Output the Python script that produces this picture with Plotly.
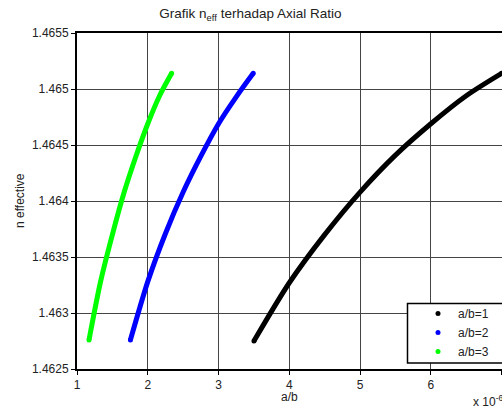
import plotly.graph_objects as go

# a/b = 1 (black)
x_ab1 = [3.50, 4.00, 4.50, 5.00, 5.50, 6.00, 6.50, 7.00]
y_ab1 = [1.46275, 1.46327, 1.46370, 1.46408, 1.46441, 1.46469, 1.46494, 1.46514]
# a/b = 2 (blue)
x_ab2 = [1.755, 2.00, 2.25, 2.50, 2.75, 3.00, 3.25, 3.49]
y_ab2 = [1.46276, 1.46328, 1.46371, 1.46408, 1.46440, 1.46469, 1.46493, 1.46514]
# a/b = 3 (green)
x_ab3 = [1.170, 1.333, 1.500, 1.667, 1.833, 2.000, 2.167, 2.337]
y_ab3 = [1.46276, 1.46328, 1.46370, 1.46408, 1.46440, 1.46469, 1.46494, 1.46514]

names = ["a/b=1", "a/b=2", "a/b=3"]
colors = ["#000000", "#0000ff", "#00ff00"]

x_ticks = [1, 2, 3, 4, 5, 6, 7]
y_ticks = [1.4625, 1.463, 1.4635, 1.464, 1.4645, 1.465, 1.4655]
y_tick_labels = ["1.4625", "1.463", "1.4635", "1.464", "1.4645", "1.465", "1.4655"]

FONT = "Liberation Sans, Arial, Helvetica, sans-serif"

fig = go.Figure()
for xs, ys, c in zip([x_ab1, x_ab2, x_ab3], [y_ab1, y_ab2, y_ab3], colors):
    fig.add_trace(go.Scatter(x=xs, y=ys, mode="lines",
                             line=dict(color=c, width=5, shape="spline", smoothing=0.8),
                             showlegend=False, hoverinfo="skip"))
    fig.add_trace(go.Scatter(x=[xs[0], xs[-1]], y=[ys[0], ys[-1]], mode="markers",
                             marker=dict(color=c, size=5), showlegend=False, hoverinfo="skip"))
for n, c in zip(names, colors):
    fig.add_trace(go.Scatter(x=[None], y=[None], mode="markers", name=n,
                             marker=dict(color=c, size=5)))

W, H = 502, 411
L, T, R, B = 77, 33, 0, 42
pw = W - L - R
ph = H - T - B

def px(xp):
    return (xp - L) / pw

def py(yp):
    return (H - B - yp) / ph

fig.update_layout(
    width=W, height=H,
    margin=dict(l=L, r=R, t=T, b=B, autoexpand=False),
    paper_bgcolor="white", plot_bgcolor="white",
    font=dict(family=FONT, size=12, color="#222222"),
    title=dict(text="Grafik n<sub>eff</sub> terhadap Axial Ratio", x=px(289), xanchor="center",
               y=1 - 13 / H, yanchor="middle", font=dict(size=13.5)),
    xaxis=dict(range=[1, 7.005], tickvals=x_ticks, ticktext=[str(v) for v in x_ticks],
               showgrid=True, gridcolor="#444444", gridwidth=1, zeroline=False,
               showline=True, linecolor="black", linewidth=2, mirror=True,
               ticks="outside", ticklen=4, tickcolor="black", automargin=False),
    yaxis=dict(range=[1.4625, 1.4655], tickvals=y_ticks, ticktext=y_tick_labels,
               showgrid=True, gridcolor="#444444", gridwidth=1, zeroline=False,
               showline=True, linecolor="black", linewidth=2, mirror=False,
               ticks="outside", ticklen=4, tickcolor="black", automargin=False),
    legend=dict(x=px(418), y=py(299), xanchor="left", yanchor="top",
                bgcolor="rgba(0,0,0,0)", borderwidth=0,
                font=dict(size=12), tracegroupgap=0, itemwidth=30),
    showlegend=True,
)

# legend frame
fig.add_shape(type="rect", xref="paper", yref="paper",
              x0=px(407.5), x1=px(506), y0=py(363), y1=py(303.5),
              line=dict(color="black", width=1.5), fillcolor="white", layer="above")

fig.add_annotation(text="a/b", xref="paper", yref="paper", x=px(289), y=py(397),
                   xanchor="center", yanchor="middle", showarrow=False, font=dict(size=12))
fig.add_annotation(text="n effective", xref="paper", yref="paper", x=px(20), y=py(201),
                   xanchor="center", yanchor="middle", textangle=-90, showarrow=False,
                   font=dict(size=12))
fig.add_annotation(text="x 10<sup>-6</sup>", xref="paper", yref="paper", x=px(471), y=py(401),
                   xanchor="left", yanchor="middle", showarrow=False, font=dict(size=12))

fig.write_html("out.html", config={"displayModeBar": False},
               post_script="document.body.style.margin='0';document.body.style.overflow='hidden';")
